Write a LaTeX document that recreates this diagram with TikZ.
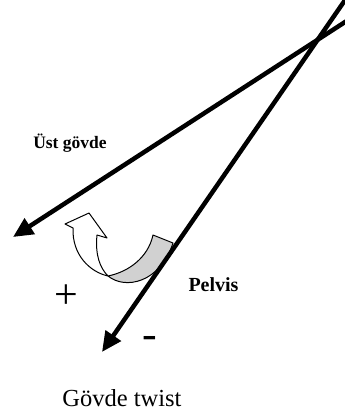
\documentclass[tikz,border=0pt]{standalone}
\usepackage{fontspec}
\setmainfont{Liberation Serif}
\usetikzlibrary{arrows.meta}
\begin{document}
\begin{tikzpicture}[x=1pt,y=-1pt,
  axis/.style={line width=4.5pt,-{Triangle[length=20pt,width=18pt]}},
  lbl/.style={inner sep=0pt,anchor=base,font=\bfseries},
  face/.style={draw=black,line width=1pt,fill=white,line join=round},
  back/.style={draw=black,line width=1pt,fill=black!18,line join=round}]
\useasboundingbox (0,0) rectangle (345,420);
\clip (0,0) rectangle (345,420);
\fill[white] (0,0) rectangle (345,420);
% curved rotation arrow
\coordinate (tw) at (108,276);
\path[back] (tw) .. controls (125,290) and (160,283) .. (173,243)
  -- (153,235) .. controls (148,258) and (128,272) .. (tw) -- cycle;
\path[face] (73,228) -- (65,224) -- (89,213) -- (107,238) -- (97,235)
  .. controls (95,255) and (100,268) .. (tw)
  .. controls (90,272) and (72,255) .. (73,228) -- cycle;
% axes
\coordinate (uA) at (350,18.8);
\coordinate (uB) at (13,237);
\coordinate (pA) at (346,-1.3);
\coordinate (pB) at (102,352);
\draw[axis] (uA) -- (uB);
\draw[axis] (pA) -- (pB);
% labels
\node[lbl,font=\bfseries\fontsize{17.5}{20}\selectfont] (ust) at (70,148) {Üst gövde};
\node[lbl,font=\bfseries\fontsize{20}{24}\selectfont] (pel) at (213.5,291) {Pelvis};
\node[inner sep=0pt,font=\fontsize{42}{48}\selectfont] (plus) at (66,297) {+};
\node[inner sep=0pt,anchor=base,font=\fontsize{44}{48}\selectfont] (minus) at (150,348) {-};
\node[inner sep=0pt,anchor=base,font=\fontsize{24.5}{28}\selectfont] (cap) at (122,406) {Gövde twist};
\end{tikzpicture}
\end{document}
